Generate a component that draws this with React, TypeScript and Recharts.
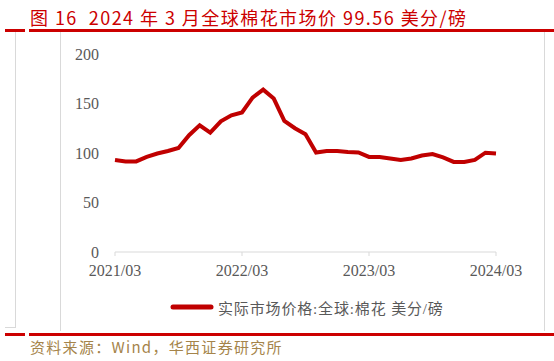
import React from 'react';
import { LineChart, Line, XAxis, YAxis, Legend } from 'recharts';

const months = [
  '2021/03','2021/04','2021/05','2021/06','2021/07','2021/08','2021/09','2021/10','2021/11','2021/12',
  '2022/01','2022/02','2022/03','2022/04','2022/05','2022/06','2022/07','2022/08','2022/09','2022/10',
  '2022/11','2022/12','2023/01','2023/02','2023/03','2023/04','2023/05','2023/06','2023/07','2023/08',
  '2023/09','2023/10','2023/11','2023/12','2024/01','2024/02','2024/03',
];
const prices = [
  93, 91.5, 91.5, 96, 99.5, 102, 105, 118, 128, 120.5,
  132, 138, 141, 156, 164, 155, 132.5, 125, 119, 100.5,
  102, 102, 101, 100.5, 96, 96, 94.5, 93, 94.5, 97.5,
  99, 95.5, 91, 91, 93, 100.3, 99.56,
];
const xTicks = ['2021/03', '2022/03', '2023/03', '2024/03'];
const yTicks = [0, 50, 100, 150, 200];
const seriesName = '实际市场价格:全球:棉花 美分/磅';
const title = '图 16  2024 年 3 月全球棉花市场价 99.56 美分/磅';
const source = '资料来源：Wind，华西证券研究所';

const data = months.map((m, i) => ({ month: m, price: prices[i] }));

const RED = '#cc0000';
const LINE_RED = '#c00000';
const GRAY_TEXT = '#595959';
const BOX = '#d9d9d9';

const LegendContent = () => (
  <div style={{ position: 'absolute', left: 170, top: 0, display: 'flex', alignItems: 'center', height: 20 }}>
    <svg width={44} height={8} style={{ display: 'block' }}>
      <line x1={3} y1={4} x2={41} y2={4} stroke={LINE_RED} strokeWidth={5} strokeLinecap="round" />
    </svg>
    <span style={{ marginLeft: 4, fontFamily: "'Liberation Serif', 'Noto Sans CJK SC', serif", fontSize: 15, color: GRAY_TEXT, letterSpacing: 0.85, whiteSpace: 'nowrap' }}>
      {seriesName}
    </span>
  </div>
);

export default function App() {
  const abs = (s: React.CSSProperties): React.CSSProperties => ({ position: 'absolute', ...s });
  return (
    <div style={{ position: 'absolute', left: 0, top: 0, width: 554, height: 361, background: '#fff', overflow: 'hidden' }}>
      <div style={abs({ left: 30, top: 7, fontFamily: "'Noto Sans CJK SC', sans-serif", fontSize: 18, lineHeight: '20px', color: RED, whiteSpace: 'pre', letterSpacing: 1.45 })}>
        {title}
      </div>
      {/* top red rule */}
      <div style={abs({ left: 5, top: 29, width: 20, height: 2.5, background: RED })} />
      <div style={abs({ left: 29, top: 29, width: 525, height: 2.5, background: RED })} />
      {/* box lines */}
      <div style={abs({ left: 15, top: 32, width: 1, height: 295, background: BOX })} />
      <div style={abs({ left: 5, top: 327, width: 11, height: 1, background: BOX })} />
      <div style={abs({ left: 60, top: 32, width: 1, height: 299, background: BOX })} />
      <div style={abs({ left: 544, top: 32, width: 1, height: 299, background: BOX })} />
      {/* bottom red rule */}
      <div style={abs({ left: 5, top: 333, width: 20, height: 2.5, background: RED })} />
      <div style={abs({ left: 29, top: 333, width: 525, height: 2.5, background: RED })} />
      <div style={abs({ left: 30, top: 338, fontFamily: "'Noto Sans CJK SC', sans-serif", fontSize: 15, lineHeight: '18px', color: '#a5844a', whiteSpace: 'pre', letterSpacing: 1.3 })}>
        {source}
      </div>
      <div style={abs({ left: 0, top: 0 })}>
        <LineChart width={554} height={361} data={data} margin={{ top: 54, right: 58, bottom: 79, left: 0 }}>
          <XAxis
            dataKey="month"
            ticks={xTicks}
            interval={0}
            axisLine={{ stroke: BOX }}
            tickLine={{ stroke: BOX }}
            tickSize={4}
            tickMargin={9}
            tick={{ fill: GRAY_TEXT, fontSize: 16, fontFamily: "'Liberation Serif', serif" }}
          />
          <YAxis
            domain={[0, 200]}
            ticks={yTicks}
            width={115}
            axisLine={false}
            tickLine={false}
            tickSize={0}
            tickMargin={16}
            tick={{ fill: GRAY_TEXT, fontSize: 16, fontFamily: "'Liberation Serif', serif" }}
          />
          <Legend
            verticalAlign="bottom"
            content={<LegendContent />}
            wrapperStyle={{ position: 'absolute', left: 0, top: 297, bottom: 'auto', width: 554, height: 0 }}
          />
          <Line
            type="linear"
            dataKey="price"
            name={seriesName}
            stroke={LINE_RED}
            strokeWidth={4}
            dot={false}
            isAnimationActive={false}
          />
        </LineChart>
      </div>
    </div>
  );
}
